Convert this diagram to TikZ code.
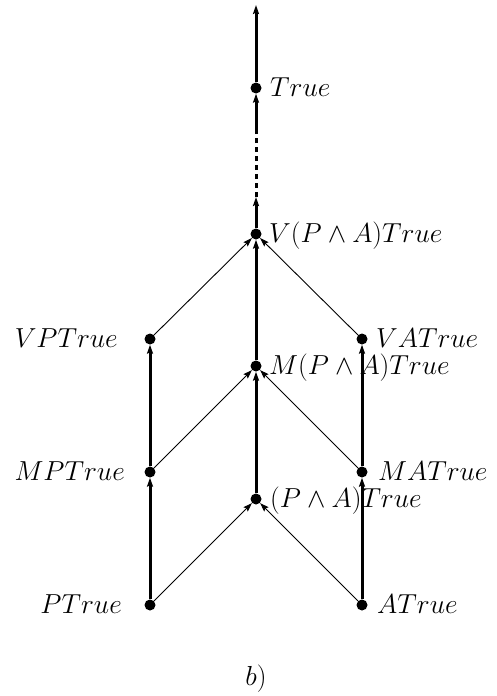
\RequirePackage{fix-cm}
\documentclass[tikz,border=0pt]{standalone}
\usetikzlibrary{arrows.meta}
\begin{document}
\begin{tikzpicture}[x=1pt,y=-1pt,
  dot/.style={circle,fill=black,inner sep=0pt,minimum size=11pt},
  lab/.style={inner sep=0pt,font=\fontsize{27.5}{33}\selectfont},
  thickedge/.style={line width=3pt,-{Stealth[length=9pt,width=6pt,inset=1.5pt]}},
  thinedge/.style={line width=0.9pt,-{Stealth[length=9pt,width=6pt,inset=1.5pt]}},
  dashedge/.style={line width=3pt,dash pattern=on 5pt off 4pt}]
\useasboundingbox (0,0) rectangle (496,696);
% dots
\node[dot] (P) at (150,605) {};
\node[dot] (A) at (362,605) {};
\node[dot] (MP) at (150,472) {};
\node[dot] (MA) at (362,472) {};
\node[dot] (VP) at (150,339) {};
\node[dot] (VA) at (362,339) {};
\node[dot] (PA) at (256,499) {};
\node[dot] (MPA) at (256,366) {};
\node[dot] (VPA) at (256,234) {};
\node[dot] (T) at (256,88) {};
\coordinate (c1) at (256,197);
\coordinate (c2) at (256,130);
\coordinate (top) at (256,5);
% labels
\node[lab,anchor=base east] (lP) at (122,613) {$PTrue$};
\node[lab,anchor=base east] (lMP) at (125,480) {$MPTrue$};
\node[lab,anchor=base east] (lVP) at (118,347) {$VPTrue$};
\node[lab,anchor=base west] (lA) at (377,613) {$ATrue$};
\node[lab,anchor=base west] (lMA) at (378,480) {$MATrue$};
\node[lab,anchor=base west] (lVA) at (376,347) {$VATrue$};
\node[lab,anchor=base west] (lPA) at (270,507) {$(P\wedge A)True$};
\node[lab,anchor=base west] (lMPA) at (269,374) {$M(P\wedge A)True$};
\node[lab,anchor=base west] (lVPA) at (269,242) {$V(P\wedge A)True$};
\node[lab,anchor=base west] (lT) at (270,96) {$True$};
\node[lab,anchor=base] (lb) at (256,685) {$b)$};
% thick edges
\draw[thickedge] (P) -- (MP);
\draw[thickedge] (MP) -- (VP);
\draw[thickedge] (A) -- (MA);
\draw[thickedge] (MA) -- (VA);
\draw[thickedge] (PA) -- (MPA);
\draw[thickedge] (MPA) -- (VPA);
\draw[thickedge] (VPA) -- (c1);
\draw[dashedge] (c1) -- (c2);
\draw[thickedge] (c2) -- (T);
\draw[thickedge] (T) -- (top);
% thin edges
\draw[thinedge] (P) -- (PA);
\draw[thinedge] (A) -- (PA);
\draw[thinedge] (MP) -- (MPA);
\draw[thinedge] (MA) -- (MPA);
\draw[thinedge] (VP) -- (VPA);
\draw[thinedge] (VA) -- (VPA);
\end{tikzpicture}
\end{document}
